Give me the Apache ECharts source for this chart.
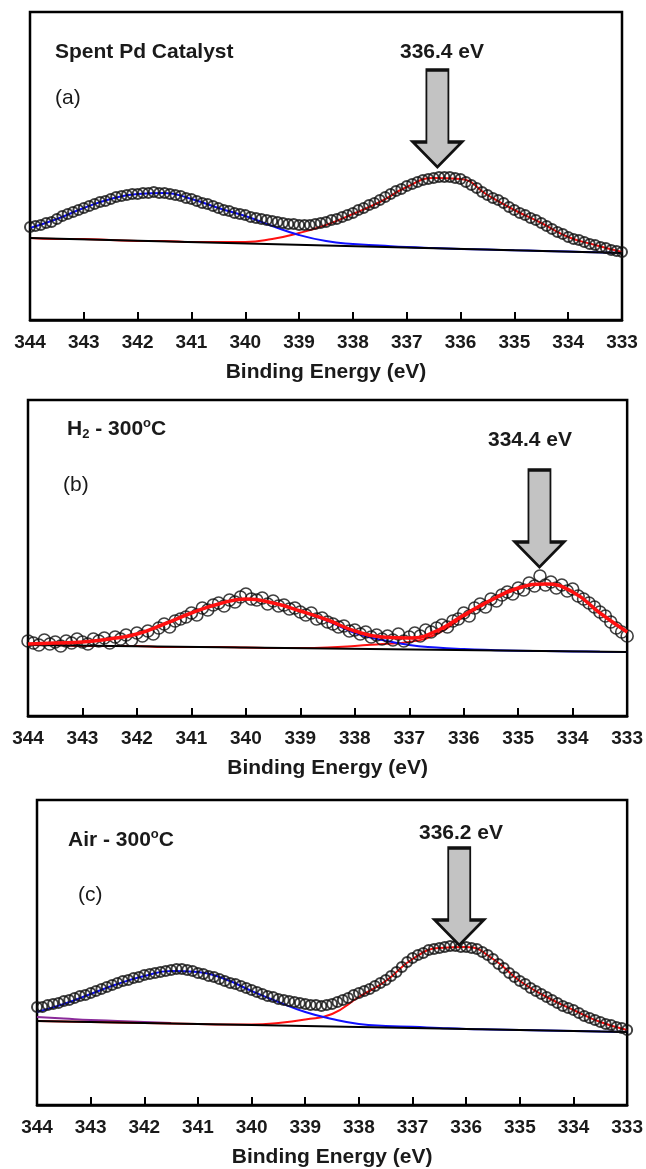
<!DOCTYPE html>
<html>
<head>
<meta charset="utf-8">
<script src="https://cdn.jsdelivr.net/npm/echarts@6/dist/echarts.min.js"></script>
<style>
  html, body { margin: 0; padding: 0; background: #fff; }
  #main { width: 646px; height: 1169px; }
</style>
</head>
<body>
<div id="main"></div>
<script>
// binding energy of the measured points, 344 -> 333 eV in 0.1 eV steps
var energies = [];
for (var i = 0; i <= 110; i++) energies.push(+(344 - i * 0.1).toFixed(1));

// binding energy of the fitted curves
var fitEnergies = [344, 343.5, 343, 342.5, 342, 341.5, 341, 340.5, 340, 339.5, 339, 338.5,
                   338, 337.5, 337, 336.5, 336, 335.5, 335, 334.5, 334, 333.5, 333];

// (a) spent Pd catalyst
var spentData = [
  93, 94, 95, 97, 98, 101, 104, 106, 108, 110,
  112, 114, 116, 118, 119, 121, 123, 124, 125, 126,
  126, 127, 127, 128, 127, 127, 126, 125, 124, 122,
  121, 119, 117, 116, 114, 112, 110, 109, 107, 106,
  105, 103, 102, 101, 100, 99, 98, 97, 96, 96,
  95, 95, 95, 96, 97, 98, 100, 101, 103, 105,
  107, 110, 112, 115, 117, 120, 123, 126, 129, 131,
  134, 136, 138, 140, 141, 142, 143, 143, 143, 142,
  141, 138, 135, 132, 128, 125, 122, 120, 117, 113,
  110, 107, 105, 102, 100, 97, 94, 91, 88, 86,
  83, 81, 80, 78, 76, 75, 73, 72, 70, 69,
  68
];
var spentRed = [82, 81, 81, 80, 79, 79, 78, 78, 78, 81, 87, 95, 106, 118, 133, 142, 141, 125, 110, 97, 83, 75, 68];
var spentBlue = [92, 101, 112, 121, 126, 127, 121, 112, 104, 94, 85, 79, 76, 74.5, 73, 72, 71.1, 70.4, 69.7, 69.1, 68.4, 67.7, 67];
var spentBase = [82, 67];          // at 344 and 333 eV
var spentPeak = [336.43, 153];     // arrow tip

// (b) H2 - 300 C
var h2Data = [
  75, 73, 71, 76, 72, 74, 70, 75, 73, 77,
  74, 72, 77, 75, 78, 73, 79, 77, 81, 76,
  83, 80, 85, 82, 88, 92, 89, 95, 97, 99,
  103, 101, 108, 106, 111, 113, 110, 116, 114, 119,
  122, 117, 116, 118, 112, 115, 110, 111, 107, 108,
  104, 101, 103, 97, 98, 94, 92, 89, 90, 85,
  86, 82, 84, 79, 81, 77, 80, 76, 82, 75,
  79, 83, 80, 86, 84, 88, 91, 89, 95, 97,
  103, 100, 108, 112, 109, 117, 115, 121, 124, 122,
  128, 126, 133, 130, 140, 131, 134, 128, 131, 125,
  127, 120, 117, 113, 109, 104, 100, 94, 88, 84,
  80
];
var h2Fit = [72, 73, 74, 77, 82, 92, 103, 112, 117, 113, 105, 96, 85, 79, 78, 85, 101, 116, 128, 132, 124, 103, 84];
var h2Red = [71, 71, 70, 70, 70, 69, 69, 69, 68.5, 68, 68, 68.5, 70, 72, 74, 82, 99, 115, 127, 132, 124, 103, 84];
var h2Blue = [72, 73, 74, 77, 82, 92, 103, 112, 117, 113, 105, 95, 83, 76, 71, 68.5, 67, 66, 65.3, 65, 64.6, 64.3, 64];
var h2Base = [71, 64];
var h2Peak = [334.61, 149];

// (c) Air - 300 C
var airData = [
  98, 98, 100, 101, 102, 104, 105, 107, 109, 110,
  112, 114, 116, 118, 120, 122, 124, 125, 127, 128,
  130, 131, 132, 133, 134, 135, 136, 136, 135, 134,
  132, 131, 129, 128, 126, 124, 122, 121, 119, 117,
  115, 113, 111, 109, 108, 106, 105, 104, 103, 102,
  101, 100, 100, 99, 100, 101, 103, 105, 107, 110,
  112, 114, 116, 119, 122, 125, 129, 133, 138, 143,
  147, 150, 152, 155, 156, 157, 158, 159, 159, 158,
  158, 157, 156, 153, 150, 146, 141, 137, 132, 128,
  124, 121, 117, 114, 111, 108, 105, 102, 99, 97,
  95, 92, 89, 87, 85, 83, 81, 80, 78, 77,
  75
];
var airRed = [84, 83.5, 83, 82.5, 82, 81.5, 81, 80.6, 80.5, 82, 85.5, 91, 108, 124, 146, 157, 158, 146, 124, 108, 95, 83, 75];
var airBlue = [93, 101, 111, 121, 129, 134, 133, 126, 114, 103, 93, 86, 81, 79, 78.2, 77, 76, 75.5, 75, 74.5, 74, 73.5, 73];
var airPurple = [88, 86.5, 85, 84, 83, 82];
var airBase = [84, 73];
var airPeak = [336.13, 160];

var FONT = '"Liberation Sans", Arial, sans-serif';
var arrowPath = 'path://M13.5 0 L35.5 0 L35.5 72 L49 72 L24.5 97 L0 72 L13.5 72 Z';

function pairs(xs, ys) {
  return ys.map(function (v, k) { return [xs[k], v]; });
}

var grids = [
  { left: 30, right: 24, top: 12, height: 308 },
  { left: 28, right: 11, top: 400, height: 316 },
  { left: 37, right: 16, top: 800, height: 305 }
];

var xAxes = grids.map(function (g, k) {
  return {
    gridIndex: k, type: 'value', inverse: true, min: 333, max: 344, interval: 1,
    axisLine: { show: true, lineStyle: { color: '#000', width: 2.5 } },
    axisTick: { inside: true, length: 8, lineStyle: { color: '#000', width: 2 } },
    axisLabel: { color: '#1a1a1a', fontSize: 19, fontWeight: 'bold', fontFamily: FONT, margin: 13 },
    splitLine: { show: false },
    name: 'Binding Energy (eV)', nameLocation: 'middle', nameGap: 42,
    nameTextStyle: { color: '#1a1a1a', fontSize: 21, fontWeight: 'bold', fontFamily: FONT }
  };
});
var yAxes = grids.map(function (g, k) {
  return { gridIndex: k, type: 'value', min: 0, max: g.height, show: false };
});

var series = [];
function line(k, pts, color, width, z) {
  series.push({
    type: 'line', xAxisIndex: k, yAxisIndex: k, data: pts, smooth: true,
    showSymbol: false, z: z || 2, lineStyle: { color: color, width: width }
  });
}
function points(k, vals, size, border, peak) {
  series.push({
    type: 'scatter', xAxisIndex: k, yAxisIndex: k, data: pairs(energies, vals),
    symbol: 'circle', symbolSize: size, z: 4,
    itemStyle: { color: 'rgba(0,0,0,0)', borderColor: '#101010', borderWidth: border },
    markPoint: {
      z: 10,
      data: [{
        coord: peak, symbol: arrowPath, symbolSize: [49, 97], symbolOffset: [0, -48.5],
        itemStyle: { color: '#c3c3c3', borderColor: '#111', borderWidth: 2.5 },
        label: { show: false }
      }]
    }
  });
}

// (a)
line(0, pairs(fitEnergies, spentRed), '#ff1010', 2);
line(0, pairs(fitEnergies, spentBlue), '#1010ff', 2);
line(0, [[344, spentBase[0]], [333, spentBase[1]]], '#000', 2, 3);
points(0, spentData, 10, 2, spentPeak);
// (b)
line(1, pairs(fitEnergies, h2Red), '#ff1010', 2);
line(1, pairs(fitEnergies, h2Blue), '#1010ff', 2);
line(1, [[344, h2Base[0]], [333, h2Base[1]]], '#000', 2, 3);
points(1, h2Data, 12, 1.6, h2Peak);
line(1, pairs(fitEnergies, h2Fit), '#ff1010', 3.5, 5);
// (c)
line(2, pairs(fitEnergies.slice(0, airPurple.length), airPurple), '#8a2a9a', 2);
line(2, pairs(fitEnergies, airRed), '#ff1010', 2);
line(2, pairs(fitEnergies, airBlue), '#1010ff', 2);
line(2, [[344, airBase[0]], [333, airBase[1]]], '#000', 2, 3);
points(2, airData, 10, 2, airPeak);

function txt(x, y, text, opts) {
  opts = opts || {};
  return {
    type: 'text', x: x, y: y, z: 20,
    style: {
      text: text, fill: '#1a1a1a', align: opts.align || 'left', verticalAlign: 'middle',
      font: (opts.bold === false ? '' : 'bold ') + (opts.size || 21) + 'px ' + FONT,
      rich: opts.rich
    }
  };
}
var rich = {
  b: { fontSize: 21, fontWeight: 'bold', fontFamily: FONT, lineHeight: 24, fill: '#1a1a1a' },
  sub: { fontSize: 13, fontWeight: 'bold', fontFamily: FONT, lineHeight: 13, verticalAlign: 'bottom', fill: '#1a1a1a' },
  sup: { fontSize: 13, fontWeight: 'bold', fontFamily: FONT, lineHeight: 13, verticalAlign: 'top', fill: '#1a1a1a' }
};

var option = {
  animation: false,
  backgroundColor: '#fff',
  grid: grids.map(function (g) {
    return Object.assign({ show: true, borderColor: '#000', borderWidth: 2.5, backgroundColor: 'transparent' }, g);
  }),
  xAxis: xAxes,
  yAxis: yAxes,
  series: series,
  graphic: [
    txt(55, 52, 'Spent Pd Catalyst'),
    txt(55, 98, '(a)', { bold: false }),
    txt(442, 52, '336.4 eV', { align: 'center' }),
    txt(67, 429, '{b|H}{sub|2}{b| - 300}{sup|o}{b|C}', { rich: rich }),
    txt(63, 485, '(b)', { bold: false }),
    txt(530, 440, '334.4 eV', { align: 'center' }),
    txt(68, 840, '{b|Air - 300}{sup|o}{b|C}', { rich: rich }),
    txt(78, 895, '(c)', { bold: false }),
    txt(461, 833, '336.2 eV', { align: 'center' })
  ]
};

var myChart = echarts.init(document.getElementById('main'));
myChart.setOption(option);
</script>
</body>
</html>
